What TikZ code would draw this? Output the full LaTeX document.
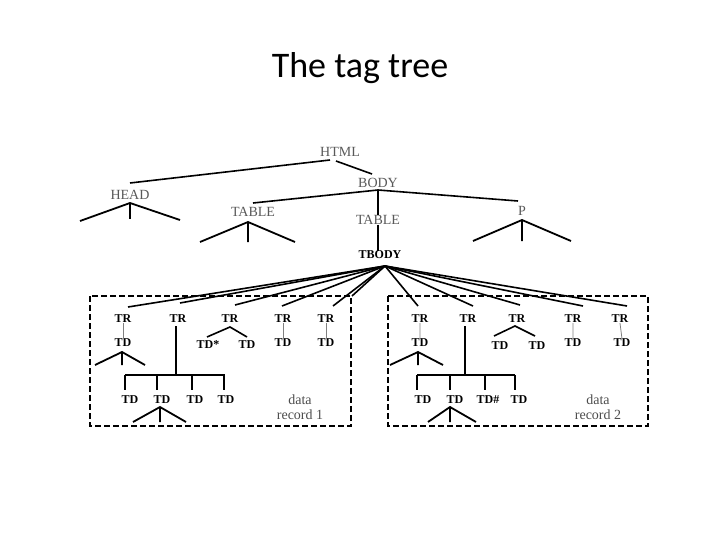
\documentclass[tikz,border=0pt]{standalone}
\usepackage{fontspec}
\setmainfont{Liberation Serif}
\newfontfamily\titlefont{Carlito}
\begin{document}
\begin{tikzpicture}[x=1pt,y=-1pt,
  lab/.style={text=black!65,font=\fontsize{14}{14}\selectfont,inner sep=0pt},
  blab/.style={text=black,font=\fontsize{12}{12}\selectfont\bfseries,inner sep=0pt},
  rlab/.style={text=black!70,font=\fontsize{14}{15}\selectfont,inner sep=0pt,align=center},
  edge/.style={line width=1.6pt},
  fork/.style={line width=1.8pt},
  box/.style={dashed,line width=1.8pt,dash pattern=on 6pt off 3pt}]
\useasboundingbox (0,0) rectangle (720,540);
\node[font=\titlefont\fontsize{36}{36}\selectfont] (title) at (360,68) {The tag tree};
% upper tree
\node[lab] (html) at (340,152) {HTML};
\node[lab] (head) at (130,195) {HEAD};
\node[lab] (body) at (378,183) {BODY};
\node[lab] (t1) at (253,212) {TABLE};
\node[lab] (t2) at (378,220) {TABLE};
\node[lab] (p) at (522,211) {P};
\node[blab] (tbody) at (380,255) {TBODY};
\draw[edge] (330,160) -- (130,183);
\draw[edge] (336,161) -- (372,174);
\draw[edge] (378,190) -- (253,203);
\draw[edge] (378,190) -- (518,201);
\draw[fork] (378,190) -- (t2.north);
\draw[fork] (t2.south) -- (tbody.north-|t2);
\draw[fork] (80,221) -- (130,203) -- (180,220) (130,203) -- (130,219);
\draw[fork] (200,242) -- (248,222) -- (295,242) (248,222) -- (248,242);
\draw[fork] (473,241) -- (522,220) -- (571,241) (522,220) -- (522,241);
% boxes
\draw[box] (90,296) rectangle (351,426);
\draw[box] (388,296) rectangle (648,426);
\coordinate (ap) at (385,266);
\foreach \x/\y in {128/307,180/303,235/305,282/306,333/306,352/296,418/306,473/306,520/305,583/306,627/306}
  \draw[edge] (ap) -- (\x,\y);
% record 1
\node[blab] (a1) at (123,319) {TR}; \node[blab] (a2) at (178,319) {TR};
\node[blab] (a3) at (230,319) {TR}; \node[blab] (a4) at (283,319) {TR};
\node[blab] (a5) at (326,319) {TR};
\node[blab] (d1) at (123,343) {TD};
\node[blab] (d3a) at (208,345) {TD*}; \node[blab] (d3b) at (247,345) {TD};
\node[blab] (d4) at (283,343) {TD}; \node[blab] (d5) at (326,343) {TD};
\draw[black!50,line width=0.8pt] (a1.south) -- (d1.north) (a4.south) -- (d4.north) (a5.south) -- (d5.north);
\draw[edge] (207,337) -- (230,327) -- (247,337);
\draw[fork] (95,365) -- (122,352) -- (145,365) (122,352) -- (122,365);
\draw[edge] (176,326) -- (176,375);
\draw[edge] (125,375) -- (225,375);
\node[blab] (e1) at (130,400) {TD}; \node[blab] (e2) at (162,400) {TD};
\node[blab] (e3) at (195,400) {TD}; \node[blab] (e4) at (226,400) {TD};
\draw[fork] (125,375) -- (125,390); \draw[edge] (157,375) -- (157,390);
\draw[edge] (192,375) -- (192,390); \draw[edge] (224,375) -- (224,390);
\draw[fork] (133,422) -- (160,407) -- (186,422) (160,407) -- (160,422);
\node[rlab] (r1) at (300,407) {data\\record 1};
% record 2
\node[blab] (b1) at (420,319) {TR}; \node[blab] (b2) at (468,319) {TR};
\node[blab] (b3) at (517,319) {TR}; \node[blab] (b4) at (573,319) {TR};
\node[blab] (b5) at (620,319) {TR};
\node[blab] (f1) at (420,343) {TD};
\node[blab] (f3a) at (500,346) {TD}; \node[blab] (f3b) at (537,346) {TD};
\node[blab] (f4) at (573,343) {TD}; \node[blab] (f5) at (622,343) {TD};
\draw[black!50,line width=0.8pt] (b1.south) -- (f1.north) (b4.south) -- (f4.north) (b5.south) -- (f5.north);
\draw[edge] (494,336) -- (515,326) -- (535,336);
\draw[fork] (390,365) -- (418,352) -- (443,365) (418,352) -- (418,365);
\draw[edge] (465,326) -- (465,375);
\draw[edge] (417,375) -- (515,375);
\node[blab] (g1) at (423,400) {TD}; \node[blab] (g2) at (455,400) {TD};
\node[blab] (g3) at (488,400) {TD\#}; \node[blab] (g4) at (519,400) {TD};
\draw[edge] (417,375) -- (417,390); \draw[fork] (450,375) -- (450,390);
\draw[edge] (485,375) -- (485,390); \draw[edge] (515,375) -- (515,390);
\draw[fork] (428,422) -- (450,407) -- (476,422) (450,407) -- (450,422);
\node[rlab] (r2) at (598,407) {data\\record 2};
\end{tikzpicture}
\end{document}
